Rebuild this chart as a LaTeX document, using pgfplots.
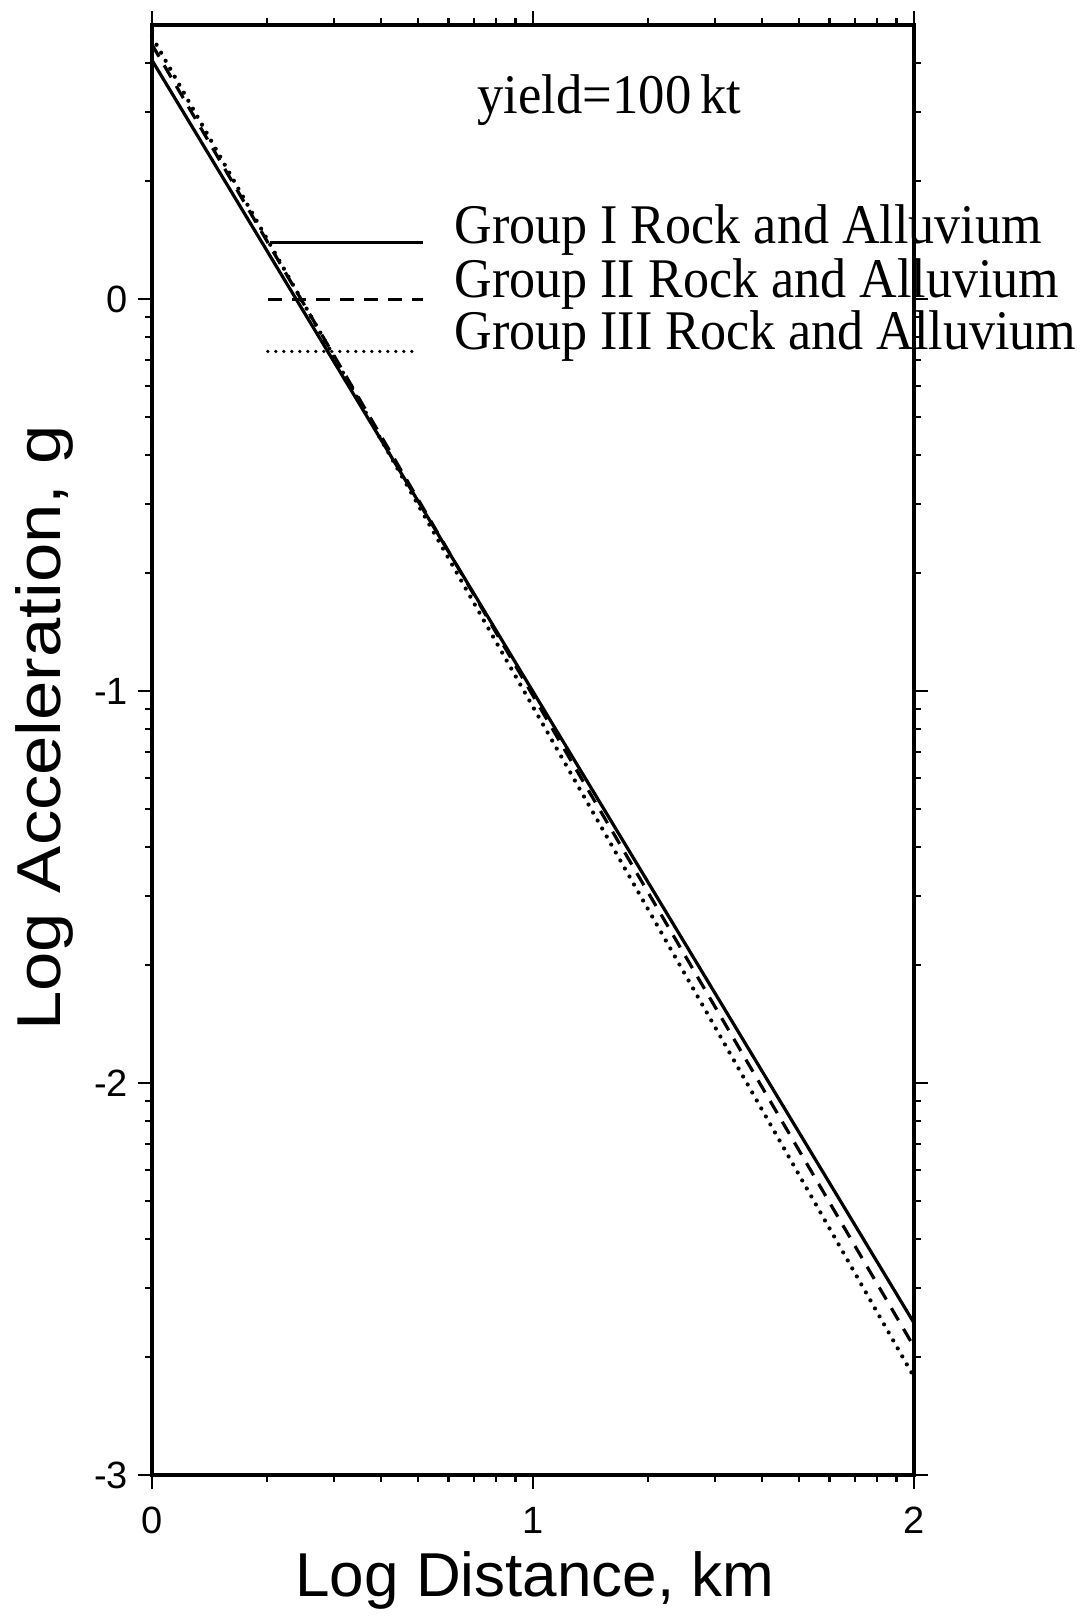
\documentclass[border=0pt]{standalone}
\usepackage{pgfplots}
\pgfplotsset{compat=1.18}
\usepackage{fontspec}
\setmainfont{Liberation Serif}
\setsansfont{Liberation Sans}
\usepackage{graphicx}

\begin{document}
\begin{tikzpicture}
\useasboundingbox (-76pt,-71pt) rectangle (465pt,737.5pt);
\begin{axis}[
  scale only axis, width=381pt, height=725pt,
  xmin=0, xmax=2, ymin=-3, ymax=0.7,
  clip=false,
  axis line style={line width=1.6pt},
  tick align=outside,
  major tick length=7pt, minor tick length=3.5pt,
  tick style={black, line width=1.1pt},
  xtick={0,1,2}, xticklabels={0,1,2},
  ytick={-3,-2,-1,0}, yticklabels={-3,-2,-1,0},
  minor xtick={0.30103,0.47712,0.60206,0.69897,0.77815,0.84510,0.90309,0.95424,
               1.30103,1.47712,1.60206,1.69897,1.77815,1.84510,1.90309,1.95424},
  minor ytick={-2.69897,-2.52288,-2.39794,-2.30103,-2.22185,-2.15490,-2.09691,-2.04576,
               -1.69897,-1.52288,-1.39794,-1.30103,-1.22185,-1.15490,-1.09691,-1.04576,
               -0.69897,-0.52288,-0.39794,-0.30103,-0.22185,-0.15490,-0.09691,-0.04576,
               0.30103,0.47712,0.60206},
  ticklabel style={font=\sffamily\fontsize{19}{22}\selectfont},
  xticklabel style={anchor=base, yshift=-22pt},
  yticklabel style={anchor=east, xshift=-1.5pt},
]
% data lines
\addplot[black, line width=1.6pt] coordinates {(0,0.610) (2,-2.612)};
\addplot[black, line width=1.6pt, dash pattern=on 7pt off 5pt] coordinates {(0,0.650) (2,-2.673)};
\addplot[black, line width=2.1pt, line cap=round, dash pattern=on 0pt off 4.6pt] coordinates {(0,0.670) (2,-2.750)};
% legend samples
\addplot[black, line width=1.5pt, forget plot] coordinates {(0.310,0.145) (0.711,0.145)};
\addplot[black, line width=1.5pt, dash pattern=on 7pt off 5pt, forget plot] coordinates {(0.304,0.0) (0.711,0.0)};
\addplot[black, line width=1.8pt, line cap=round, dash pattern=on 0pt off 4pt, forget plot] coordinates {(0.304,-0.133) (0.698,-0.133)};

\node[anchor=base west, inner sep=0] at (axis cs:0.853,0.474)
  {\fontsize{28}{30}\selectfont\scalebox{0.94}[1]{yield=100\,kt}};
\node[anchor=base west, inner sep=0] at (axis cs:0.793,0.143)
  {\fontsize{28}{30}\selectfont\scalebox{0.93}[1]{Group I Rock and Alluvium}};
\node[anchor=base west, inner sep=0] at (axis cs:0.793,0.005)
  {\fontsize{28}{30}\selectfont\scalebox{0.93}[1]{Group II Rock and Alluvium}};
\node[anchor=base west, inner sep=0] at (axis cs:0.793,-0.128)
  {\fontsize{28}{30}\selectfont\scalebox{0.93}[1]{Group III Rock and Alluvium}};

\node[rotate=90, anchor=base, inner sep=0] at (axis cs:-0.241,-1.094)
  {\sffamily\fontsize{31}{34}\selectfont\scalebox{1.14}[1]{Log Acceleration, g}};
\node[anchor=base, inner sep=0] at (axis cs:1.005,-3.311)
  {\sffamily\fontsize{31}{34}\selectfont Log Distance, km};
\end{axis}
\end{tikzpicture}
\end{document}
